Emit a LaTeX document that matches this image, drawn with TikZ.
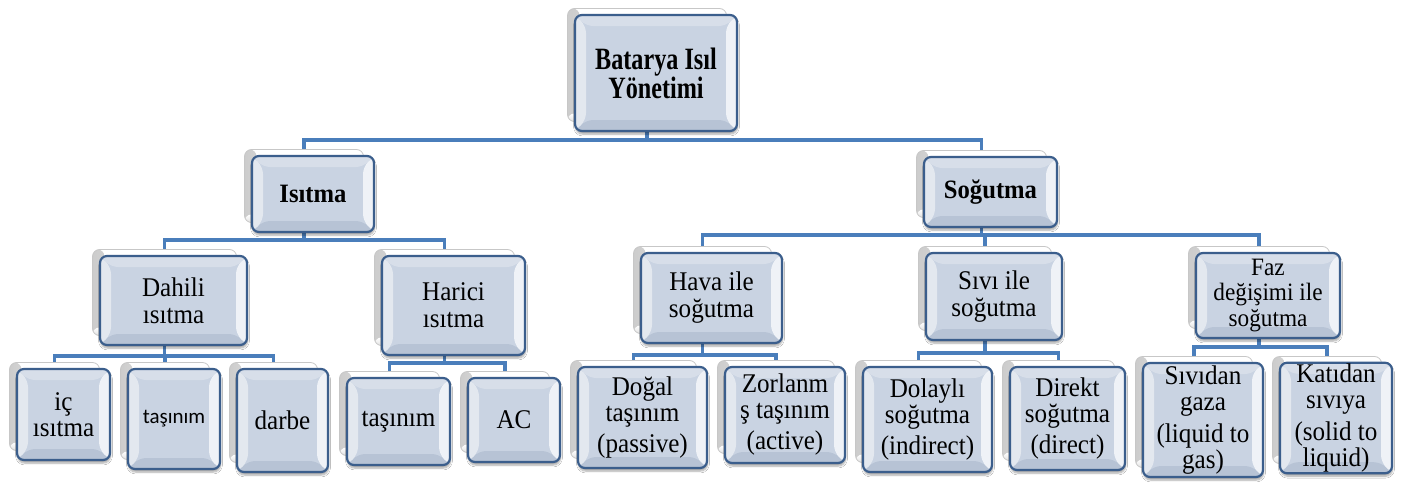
\documentclass[tikz,border=0pt]{standalone}
\usepackage{fontspec}
\setmainfont{Liberation Serif}[FakeStretch=0.93]
\newfontfamily\rootfont[FakeStretch=0.78]{Liberation Serif}
\newfontfamily\calfont{Carlito}
\usetikzlibrary{calc,shadows.blur}
\pgfdeclarelayer{bg}
\pgfsetlayers{bg,main}
\definecolor{bordc}{HTML}{3B5E8C}
\definecolor{connc}{HTML}{4A7EBB}
\definecolor{facec}{HTML}{C9D3E2}
\definecolor{bevT}{HTML}{D7DEE9}
\definecolor{bevL}{HTML}{E3E8EF}
\definecolor{bevR}{HTML}{EFF2F7}
\definecolor{bevB}{HTML}{B7C3D5}
\tikzset{
  card/.style={draw=bordc, line width=2.2pt, rounded corners=7pt, fill=facec,
    align=center, inner sep=1pt, text=black,
    blur shadow={shadow xshift=0.5pt, shadow yshift=-3pt, shadow opacity=35, shadow blur steps=6},
    path picture={
      \coordinate (NW) at (path picture bounding box.north west);
      \coordinate (NE) at (path picture bounding box.north east);
      \coordinate (SW) at (path picture bounding box.south west);
      \coordinate (SE) at (path picture bounding box.south east);
      \fill[bevT] (NW) -- (NE) -- ([shift={(-11pt,-11pt)}]NE) -- ([shift={(11pt,-11pt)}]NW) -- cycle;
      \fill[bevB] (SW) -- (SE) -- ([shift={(-11pt,11pt)}]SE) -- ([shift={(11pt,11pt)}]SW) -- cycle;
      \fill[bevL] (NW) -- ([shift={(11pt,-11pt)}]NW) -- ([shift={(11pt,11pt)}]SW) -- (SW) -- cycle;
      \fill[bevR] (NE) -- ([shift={(-11pt,-11pt)}]NE) -- ([shift={(-11pt,11pt)}]SE) -- (SE) -- cycle;
    }},
  backcard/.style={draw=black!22, line width=0.8pt, rounded corners=7pt, fill=white,
    path picture={
      \shade[left color=black!20, right color=white] (path picture bounding box.north west) rectangle ([xshift=12pt]path picture bounding box.south west);
      \shade[top color=white, bottom color=black!12] ([yshift=8pt]path picture bounding box.south west) rectangle (path picture bounding box.south east);
    }},
  conn/.style={draw=connc, line width=3.8pt},
  troot/.style={font=\rootfont\bfseries\fontsize{31}{25}\selectfont},
  ttwo/.style={font=\bfseries\fontsize{26.5}{28}\selectfont},
  tthree/.style={font=\fontsize{27}{27}\selectfont},
  tfaz/.style={font=\fontsize{25}{25.5}\selectfont},
  tfour/.style={font=\fontsize{27}{26}\selectfont},
  tsans/.style={font=\calfont\fontsize{21}{24}\selectfont},
}
% #1 name, #2 x, #3 y, #4 width, #5 height, #6 style, #7 text
\newcommand\cardpair[7]{%
  \node[backcard, minimum width=#4pt-3pt, minimum height=#5pt-3pt] (#1b) at (#2-9,#3-8) {};
  \node[card, #6, minimum width=#4pt, minimum height=#5pt] (#1) at (#2,#3) {#7};
}
\begin{document}
\begin{tikzpicture}[x=1pt,y=-1pt]
\useasboundingbox (0,0) rectangle (1403,482);
% level 1
\cardpair{root}{656}{73}{162}{116}{troot}{Batarya Isıl\\Yönetimi}
% level 2
\cardpair{isitma}{313}{194}{122}{76}{ttwo}{Isıtma}
\cardpair{sogutma}{990.5}{192}{133}{70}{ttwo}{Soğutma}
% level 3
\cardpair{dahili}{173.5}{300.5}{147}{89}{tthree}{Dahili\\ısıtma}
\cardpair{harici}{453.5}{305.5}{143}{99}{tthree}{Harici\\ısıtma}
\cardpair{hava}{711.5}{298}{141}{90}{tthree}{Hava ile\\soğutma}
\cardpair{sivi}{994}{296.5}{136}{87}{tthree}{Sıvı ile\\soğutma}
\cardpair{faz}{1268}{295.5}{144}{85}{tfaz}{Faz\\değişimi ile\\soğutma}
% level 4
\cardpair{ic}{63.5}{414.5}{93}{91}{tfour}{iç\\ısıtma}
\cardpair{tasA}{174}{419}{92}{100}{tsans}{taşınım}
\cardpair{darbe}{282.5}{420.5}{91}{103}{tfour}{darbe}
\cardpair{tasB}{398.5}{421.5}{103}{87}{tfour}{taşınım}
\cardpair{ac}{514}{420}{92}{84}{tfour}{AC}
\cardpair{dogal}{642.5}{417.5}{129}{101}{tfour}{Doğal\\taşınım\\[5pt](passive)}
\cardpair{zorl}{785}{415}{120}{96}{tfour}{Zorlanm\\ş taşınım\\[5pt](active)}
\cardpair{dolayli}{927.5}{419.5}{129}{105}{tfour}{Dolaylı\\soğutma\\[5pt](indirect)}
\cardpair{direkt}{1067.5}{418.5}{115}{103}{tfour}{Direkt\\soğutma\\[5pt](direct)}
\cardpair{sividan}{1203}{420}{120}{114}{tfour}{Sıvıdan\\gaza\\[6pt](liquid to\\gas)}
\cardpair{katidan}{1336}{418}{112}{110}{tfour}{Katıdan\\sıvıya\\[6pt](solid to\\liquid)}
% bus coordinates
\coordinate (busR) at (0,140);
\coordinate (busI) at (0,240);
\coordinate (busS) at (0,235);
\coordinate (busD) at (0,356);
\coordinate (busH) at (0,363);
\coordinate (busV) at (0,355);
\coordinate (busL) at (0,353);
\coordinate (busF) at (0,347);
\begin{pgfonlayer}{bg}
  \fill[white] (0,0) rectangle (1403,482);
  \foreach \p/\c/\b in {root/isitma/busR, root/sogutma/busR,
      isitma/dahili/busI, isitma/harici/busI,
      sogutma/hava/busS, sogutma/sivi/busS, sogutma/faz/busS,
      dahili/ic/busD, dahili/tasA/busD, dahili/darbe/busD,
      harici/tasB/busH, harici/ac/busH,
      hava/dogal/busV, hava/zorl/busV,
      sivi/dolayli/busL, sivi/direkt/busL,
      faz/sividan/busF, faz/katidan/busF}
    \draw[conn] (\p b.center) -- (\p b.center |- \b) -| (\c b.center);
\end{pgfonlayer}
\end{tikzpicture}
\end{document}
